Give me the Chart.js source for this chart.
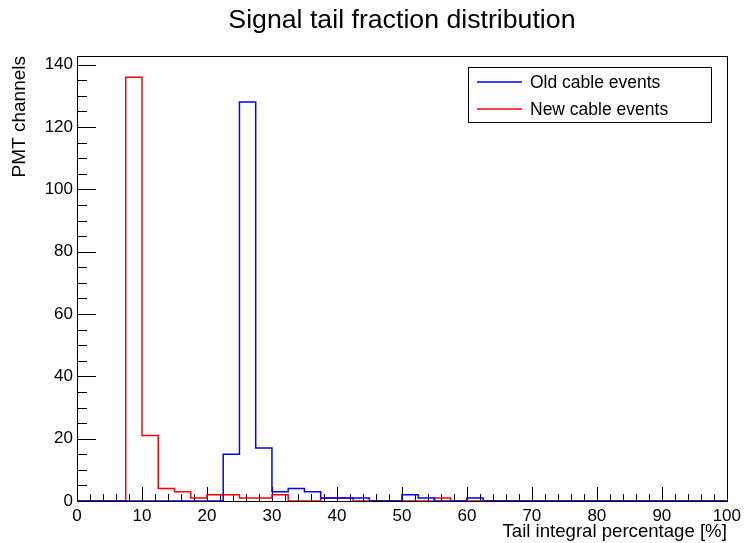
<!DOCTYPE html>
<html>
<head>
<meta charset="utf-8">
<script src="https://cdn.jsdelivr.net/npm/chart.js@4.4.1/dist/chart.umd.min.js"></script>
<style>
  html, body { margin: 0; padding: 0; background: #ffffff; }
  #wrap { width: 746px; height: 543px; position: relative; }
</style>
</head>
<body>
<div id="wrap"><canvas id="c" width="746" height="543"></canvas></div>
<script>
// ---- data (bins of 2.5 % from 0 to 100) ----
const binLowEdges = [0, 2.5, 5, 7.5, 10, 12.5, 15, 17.5, 20, 22.5,
  25, 27.5, 30, 32.5, 35, 37.5, 40, 42.5, 45, 47.5,
  50, 52.5, 55, 57.5, 60, 62.5, 65, 67.5, 70, 72.5,
  75, 77.5, 80, 82.5, 85, 87.5, 90, 92.5, 95, 97.5];
const histUpperEdge = 100;
const oldCableCounts = [0, 0, 0, 0, 0, 0, 0, 0, 0, 15,
  128, 17, 3, 4, 3, 1, 1, 1, 0, 0,
  2, 1, 0, 0, 1, 0, 0, 0, 0, 0,
  0, 0, 0, 0, 0, 0, 0, 0, 0, 0];
const newCableCounts = [0, 0, 0, 136, 21, 4, 3, 1, 2, 2,
  1, 1, 2, 0, 0, 1, 1, 0, 0, 0,
  0, 0, 1, 0, 0, 0, 0, 0, 0, 0,
  0, 0, 0, 0, 0, 0, 0, 0, 0, 0];
const seriesLabels = ['Old cable events', 'New cable events'];
const xTickValues = [0, 10, 20, 30, 40, 50, 60, 70, 80, 90, 100];
const yTickValues = [0, 20, 40, 60, 80, 100, 120, 140];

const FONT = "'Liberation Sans', Arial, Helvetica, sans-serif";

function histPoints(counts) {
  const pts = binLowEdges.map((e, i) => ({ x: e, y: counts[i] }));
  pts.push({ x: histUpperEdge, y: counts[counts.length - 1] });
  return pts;
}

const yMax = Math.max(...oldCableCounts, ...newCableCounts) * 1.05;

const rootStyle = {
  id: 'rootStyle',
  beforeDatasetsDraw(chart) {
    const { ctx, chartArea: a, scales: { x, y } } = chart;
    ctx.save();
    ctx.strokeStyle = '#000';
    ctx.lineWidth = 1;
    const L = Math.round(a.left), R = Math.round(a.right), T = Math.round(a.top), B = Math.round(a.bottom);
    ctx.strokeRect(L + 0.5, T + 0.5, R - L, B - T);
    ctx.beginPath();
    for (let k = 0; k <= 50; k++) {
      const v = k * 2;
      const px = Math.round(x.getPixelForValue(v)) + 0.5;
      const len = (v % 10 === 0) ? 14 : 7;
      ctx.moveTo(px, B);
      ctx.lineTo(px, B - len);
    }
    for (let k = 0; k <= 28; k++) {
      const v = k * 5;
      const py = Math.round(y.getPixelForValue(v)) + 0.5;
      const len = (v % 20 === 0) ? 19 : 10;
      ctx.moveTo(L, py);
      ctx.lineTo(L + len, py);
    }
    ctx.stroke();
    ctx.restore();
  },
  afterDatasetsDraw(chart) {
    const { ctx } = chart;
    const bx = 468, by = 67, bw = 243, bh = 55;
    ctx.save();
    ctx.fillStyle = '#fff';
    ctx.fillRect(bx, by, bw, bh);
    ctx.strokeStyle = '#000';
    ctx.lineWidth = 1;
    ctx.strokeRect(bx + 0.5, by + 0.5, bw, bh);
    chart.data.datasets.forEach((ds, i) => {
      const ly = by + 15 + i * 27;
      ctx.strokeStyle = ds.borderColor;
      ctx.lineWidth = 1.5;
      ctx.beginPath();
      ctx.moveTo(bx + 9, ly);
      ctx.lineTo(bx + 54, ly);
      ctx.stroke();
      ctx.fillStyle = '#000';
      ctx.font = '17.5px ' + FONT;
      ctx.textBaseline = 'middle';
      ctx.textAlign = 'left';
      ctx.fillText(ds.label, bx + 62, ly + 1);
    });
    ctx.restore();
  }
};

new Chart(document.getElementById('c'), {
  type: 'line',
  data: {
    datasets: [
      { label: seriesLabels[0], data: histPoints(oldCableCounts), borderColor: '#0000ff',
        borderWidth: 1.5, stepped: 'before', pointRadius: 0, fill: false, tension: 0 },
      { label: seriesLabels[1], data: histPoints(newCableCounts), borderColor: '#ff0000',
        borderWidth: 1.5, stepped: 'before', pointRadius: 0, fill: false, tension: 0 }
    ]
  },
  options: {
    responsive: false,
    animation: false,
    devicePixelRatio: 1,
    layout: { padding: { left: 0, right: 16, top: 0, bottom: 0 } },
    plugins: {
      legend: { display: false },
      tooltip: { enabled: false },
      title: {
        display: true, text: 'Signal tail fraction distribution', fullSize: false,
        color: '#000', font: { family: FONT, size: 26.7, weight: 'normal', lineHeight: 1.2 },
        padding: { top: 5, bottom: 18.96 }
      }
    },
    scales: {
      x: {
        type: 'linear', min: 0, max: 100,
        afterBuildTicks: s => { s.ticks = xTickValues.map(v => ({ value: v })); },
        afterFit: s => { s.height = 42; },
        grid: { display: false, drawTicks: false },
        border: { display: false },
        ticks: { padding: 5, color: '#000', font: { family: FONT, size: 17 }, maxRotation: 0, autoSkip: false,
                 callback: v => String(v) },
        title: { display: true, text: 'Tail integral percentage [%]', align: 'end', color: '#000',
                 font: { family: FONT, size: 18.6 }, padding: { top: 0, bottom: 0 } }
      },
      y: {
        type: 'linear', min: 0, max: yMax,
        afterBuildTicks: s => { s.ticks = yTickValues.map(v => ({ value: v })); },
        afterFit: s => { s.width = 77; },
        grid: { display: false, drawTicks: false },
        border: { display: false },
        ticks: { padding: 4, color: '#000', font: { family: FONT, size: 17 }, autoSkip: false,
                 callback: v => String(v) },
        title: { display: true, text: 'PMT channels', align: 'end', color: '#000',
                 font: { family: FONT, size: 19 }, padding: { top: 8.6, bottom: 0 } }
      }
    }
  },
  plugins: [rootStyle]
});
</script>
</body>
</html>
